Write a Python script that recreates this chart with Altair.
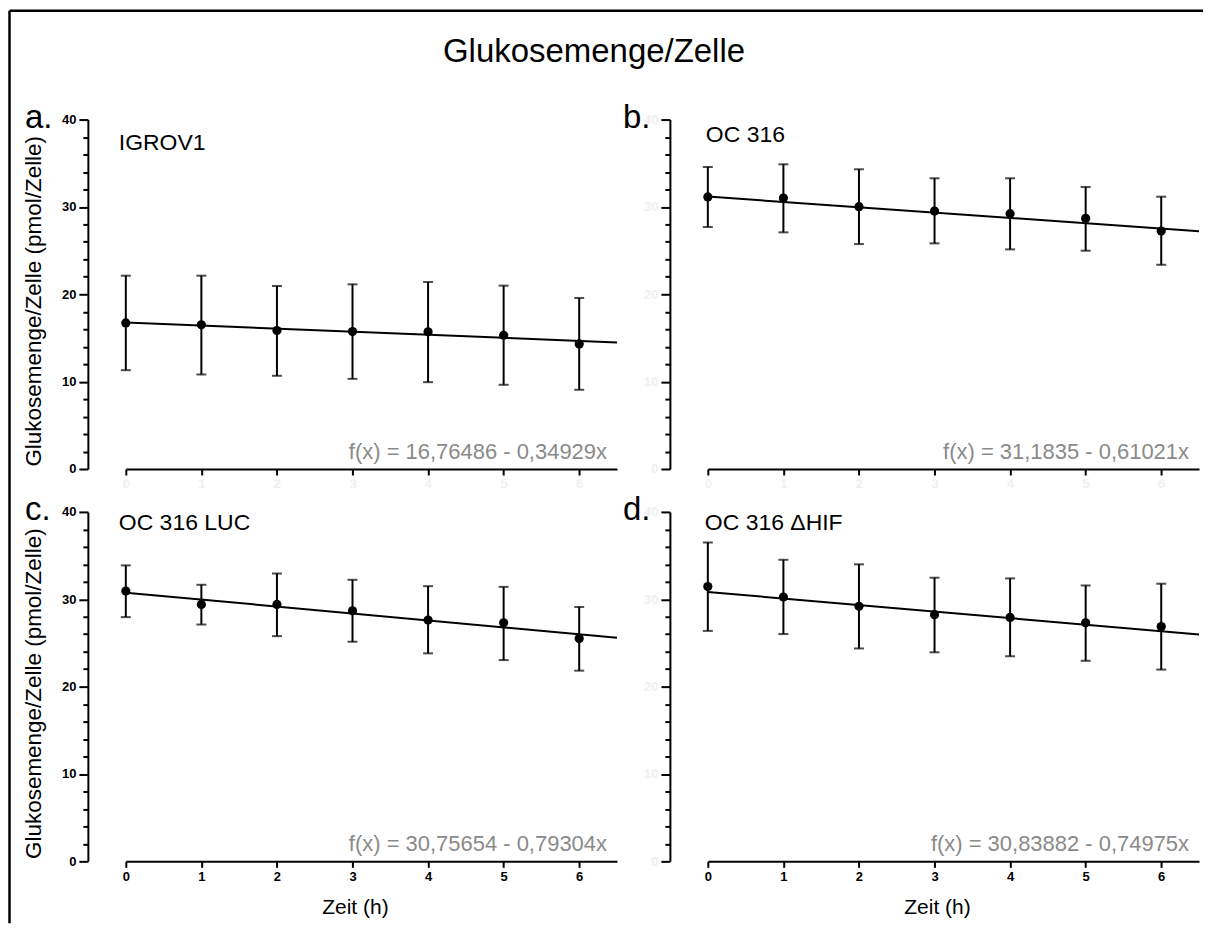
import altair as alt
import pandas as pd

# ---------------- data ----------------
times = [0, 1, 2, 3, 4, 5, 6]
panel_keys = ["a", "b", "c", "d"]
letters = ["a.", "b.", "c.", "d."]
cell_lines = ["IGROV1", "OC 316", "OC 316 LUC", "OC 316 \u0394HIF"]

mean_a = [16.72, 16.50, 15.85, 15.73, 15.70, 15.31, 14.32]
upper_a = [22.13, 22.13, 20.95, 21.14, 21.41, 20.99, 19.58]
lower_a = [11.31, 10.82, 10.67, 10.32, 9.94, 9.64, 9.07]

mean_b = [31.14, 31.02, 30.03, 29.53, 29.23, 28.69, 27.24]
upper_b = [34.57, 34.88, 34.31, 33.28, 33.28, 32.28, 31.17]
lower_b = [27.70, 27.09, 25.75, 25.83, 25.14, 24.99, 23.38]

mean_c = [30.94, 29.41, 29.41, 28.68, 27.63, 27.31, 25.50]
upper_c = [33.88, 31.66, 32.95, 32.23, 31.50, 31.42, 29.12]
lower_c = [27.96, 27.11, 25.78, 25.14, 23.81, 23.04, 21.83]

mean_d = [31.46, 30.25, 29.20, 28.24, 27.92, 27.31, 26.87]
upper_d = [36.50, 34.52, 34.00, 32.47, 32.39, 31.58, 31.78]
lower_d = [26.38, 26.02, 24.37, 23.93, 23.48, 22.96, 21.95]

intercepts = [16.76486, 31.1835, 30.75654, 30.83882]
slopes = [-0.34929, -0.61021, -0.79304, -0.74975]
equations = [
    "f(x) = 16,76486 - 0,34929x",
    "f(x) = 31,1835 - 0,61021x",
    "f(x) = 30,75654 - 0,79304x",
    "f(x) = 30,83882 - 0,74975x",
]
fit_x = [0, 6.5]
x_ticks = [0, 1, 2, 3, 4, 5, 6]
y_ticks = list(range(0, 41, 2))

main_title = "Glukosemenge/Zelle"
y_title = "Glukosemenge/Zelle (pmol/Zelle)"
x_title = "Zeit (h)"

means = [mean_a, mean_b, mean_c, mean_d]
uppers = [upper_a, upper_b, upper_c, upper_d]
lowers = [lower_a, lower_b, lower_c, lower_d]

# ---------------- layout / style ----------------
W, H = 492, 350
COL_GAP, ROW_GAP = 91, 43
FONT = "Liberation Sans"
FAINT = "#f0f0f0"

name_pos = [(-7, 23), (-2, 15), (-7, 11), (-3, 11)]


def make_panel(i):
    df = pd.DataFrame({"time": times, "mean": means[i], "lo": lowers[i], "hi": uppers[i]})
    fit_df = pd.DataFrame({
        "time": fit_x,
        "mean": [intercepts[i] + slopes[i] * t for t in fit_x],
    })
    top_row = i < 2
    left_col = i % 2 == 0

    x_axis = alt.Axis(
        values=x_ticks, title=None, grid=False, domainColor="black", domainWidth=2,
        tickColor="black", tickWidth=2, tickSize=6, labelFont=FONT, labelFontSize=13,
        labelFontWeight="bold", labelColor=FAINT if top_row else "black",
        labelPadding=3, labelFlush=False, labelOverlap=False,
    )
    y_axis = alt.Axis(
        values=y_ticks, title=None, grid=False, offset=38, domainColor="black", domainWidth=2,
        tickColor="black", tickWidth=2,
        tickSize={"condition": {"test": "datum.value % 10 === 0", "value": 9}, "value": 5},
        labelExpr="datum.value % 10 === 0 ? datum.label : ''",
        labelFont=FONT, labelFontSize=13, labelFontWeight="bold",
        labelColor="black" if left_col else FAINT,
        labelPadding=3, labelFlush=False, labelOverlap=False,
    )
    xs = alt.Scale(domain=[0, 6.5], nice=False, zero=False)
    ys = alt.Scale(domain=[0, 40], nice=False, zero=False)
    X = alt.X("time:Q", scale=xs, axis=x_axis)

    bars = alt.Chart(df).mark_rule(color="black", strokeWidth=2).encode(
        x=X, y=alt.Y("lo:Q", scale=ys, axis=y_axis), y2="hi:Q")
    cap_hi = alt.Chart(df).mark_tick(color="black", orient="horizontal", size=10, thickness=2).encode(
        x=X, y=alt.Y("hi:Q", scale=ys, axis=y_axis))
    cap_lo = alt.Chart(df).mark_tick(color="black", orient="horizontal", size=10, thickness=2).encode(
        x=X, y=alt.Y("lo:Q", scale=ys, axis=y_axis))
    fit = alt.Chart(fit_df).mark_line(color="black", strokeWidth=2).encode(
        x=X, y=alt.Y("mean:Q", scale=ys, axis=y_axis))
    pts = alt.Chart(df).mark_point(filled=True, color="black", size=85, opacity=1).encode(
        x=X, y=alt.Y("mean:Q", scale=ys, axis=y_axis))

    one = pd.DataFrame({"letter": [letters[i]], "name": [cell_lines[i]], "eq": [equations[i]],
                        "ytitle": [y_title], "xtitle": [x_title], "title": [main_title]})
    letter = alt.Chart(one).mark_text(font=FONT, fontSize=33, align="left", baseline="alphabetic",
                                      color="black").encode(
        text="letter:N", x=alt.value(-101 if left_col else -85), y=alt.value(8))
    nx, ny = name_pos[i]
    name = alt.Chart(one).mark_text(font=FONT, fontSize=23, align="left", baseline="middle",
                                    color="black").encode(
        text="name:N", x=alt.value(nx), y=alt.value(ny))
    eq = alt.Chart(one).mark_text(font=FONT, fontSize=22, align="right", baseline="middle",
                                  color="#8a8a8a").encode(
        text="eq:N", x=alt.value(482), y=alt.value(333))

    layers = [bars, cap_hi, cap_lo, fit, pts, letter, name, eq]
    if left_col:
        layers.append(alt.Chart(one).mark_text(font=FONT, fontSize=22.5, angle=270, align="center",
                                               baseline="middle", color="black").encode(
            text="ytitle:N", x=alt.value(-92), y=alt.value(182)))
    if not top_row:
        layers.append(alt.Chart(one).mark_text(font=FONT, fontSize=21, align="center",
                                               baseline="middle", color="black").encode(
            text="xtitle:N", x=alt.value(230), y=alt.value(H + 47)))
    if i == 0:
        layers.append(alt.Chart(one).mark_text(font=FONT, fontSize=33, align="center",
                                               baseline="middle", color="black").encode(
            text="title:N", x=alt.value(469), y=alt.value(-68)))
        # outer frame (top and left edges)
        layers.append(alt.Chart(one).mark_rule(color="black", strokeWidth=2.5).encode(
            x=alt.value(-116.5), x2=alt.value(1079), y=alt.value(-109)))
        layers.append(alt.Chart(one).mark_rule(color="black", strokeWidth=2.5).encode(
            x=alt.value(-116.5), y=alt.value(-109), y2=alt.value(805)))
    return alt.layer(*layers).properties(width=W, height=H)


panels = [make_panel(i) for i in range(4)]

chart = alt.concat(
    *panels, columns=2, spacing={"row": ROW_GAP, "column": COL_GAP}, bounds="flush"
).properties(
    padding=0, background="white"
).configure_view(strokeWidth=0)

chart.save("out.html", embed_options={"renderer": "svg", "actions": False})
